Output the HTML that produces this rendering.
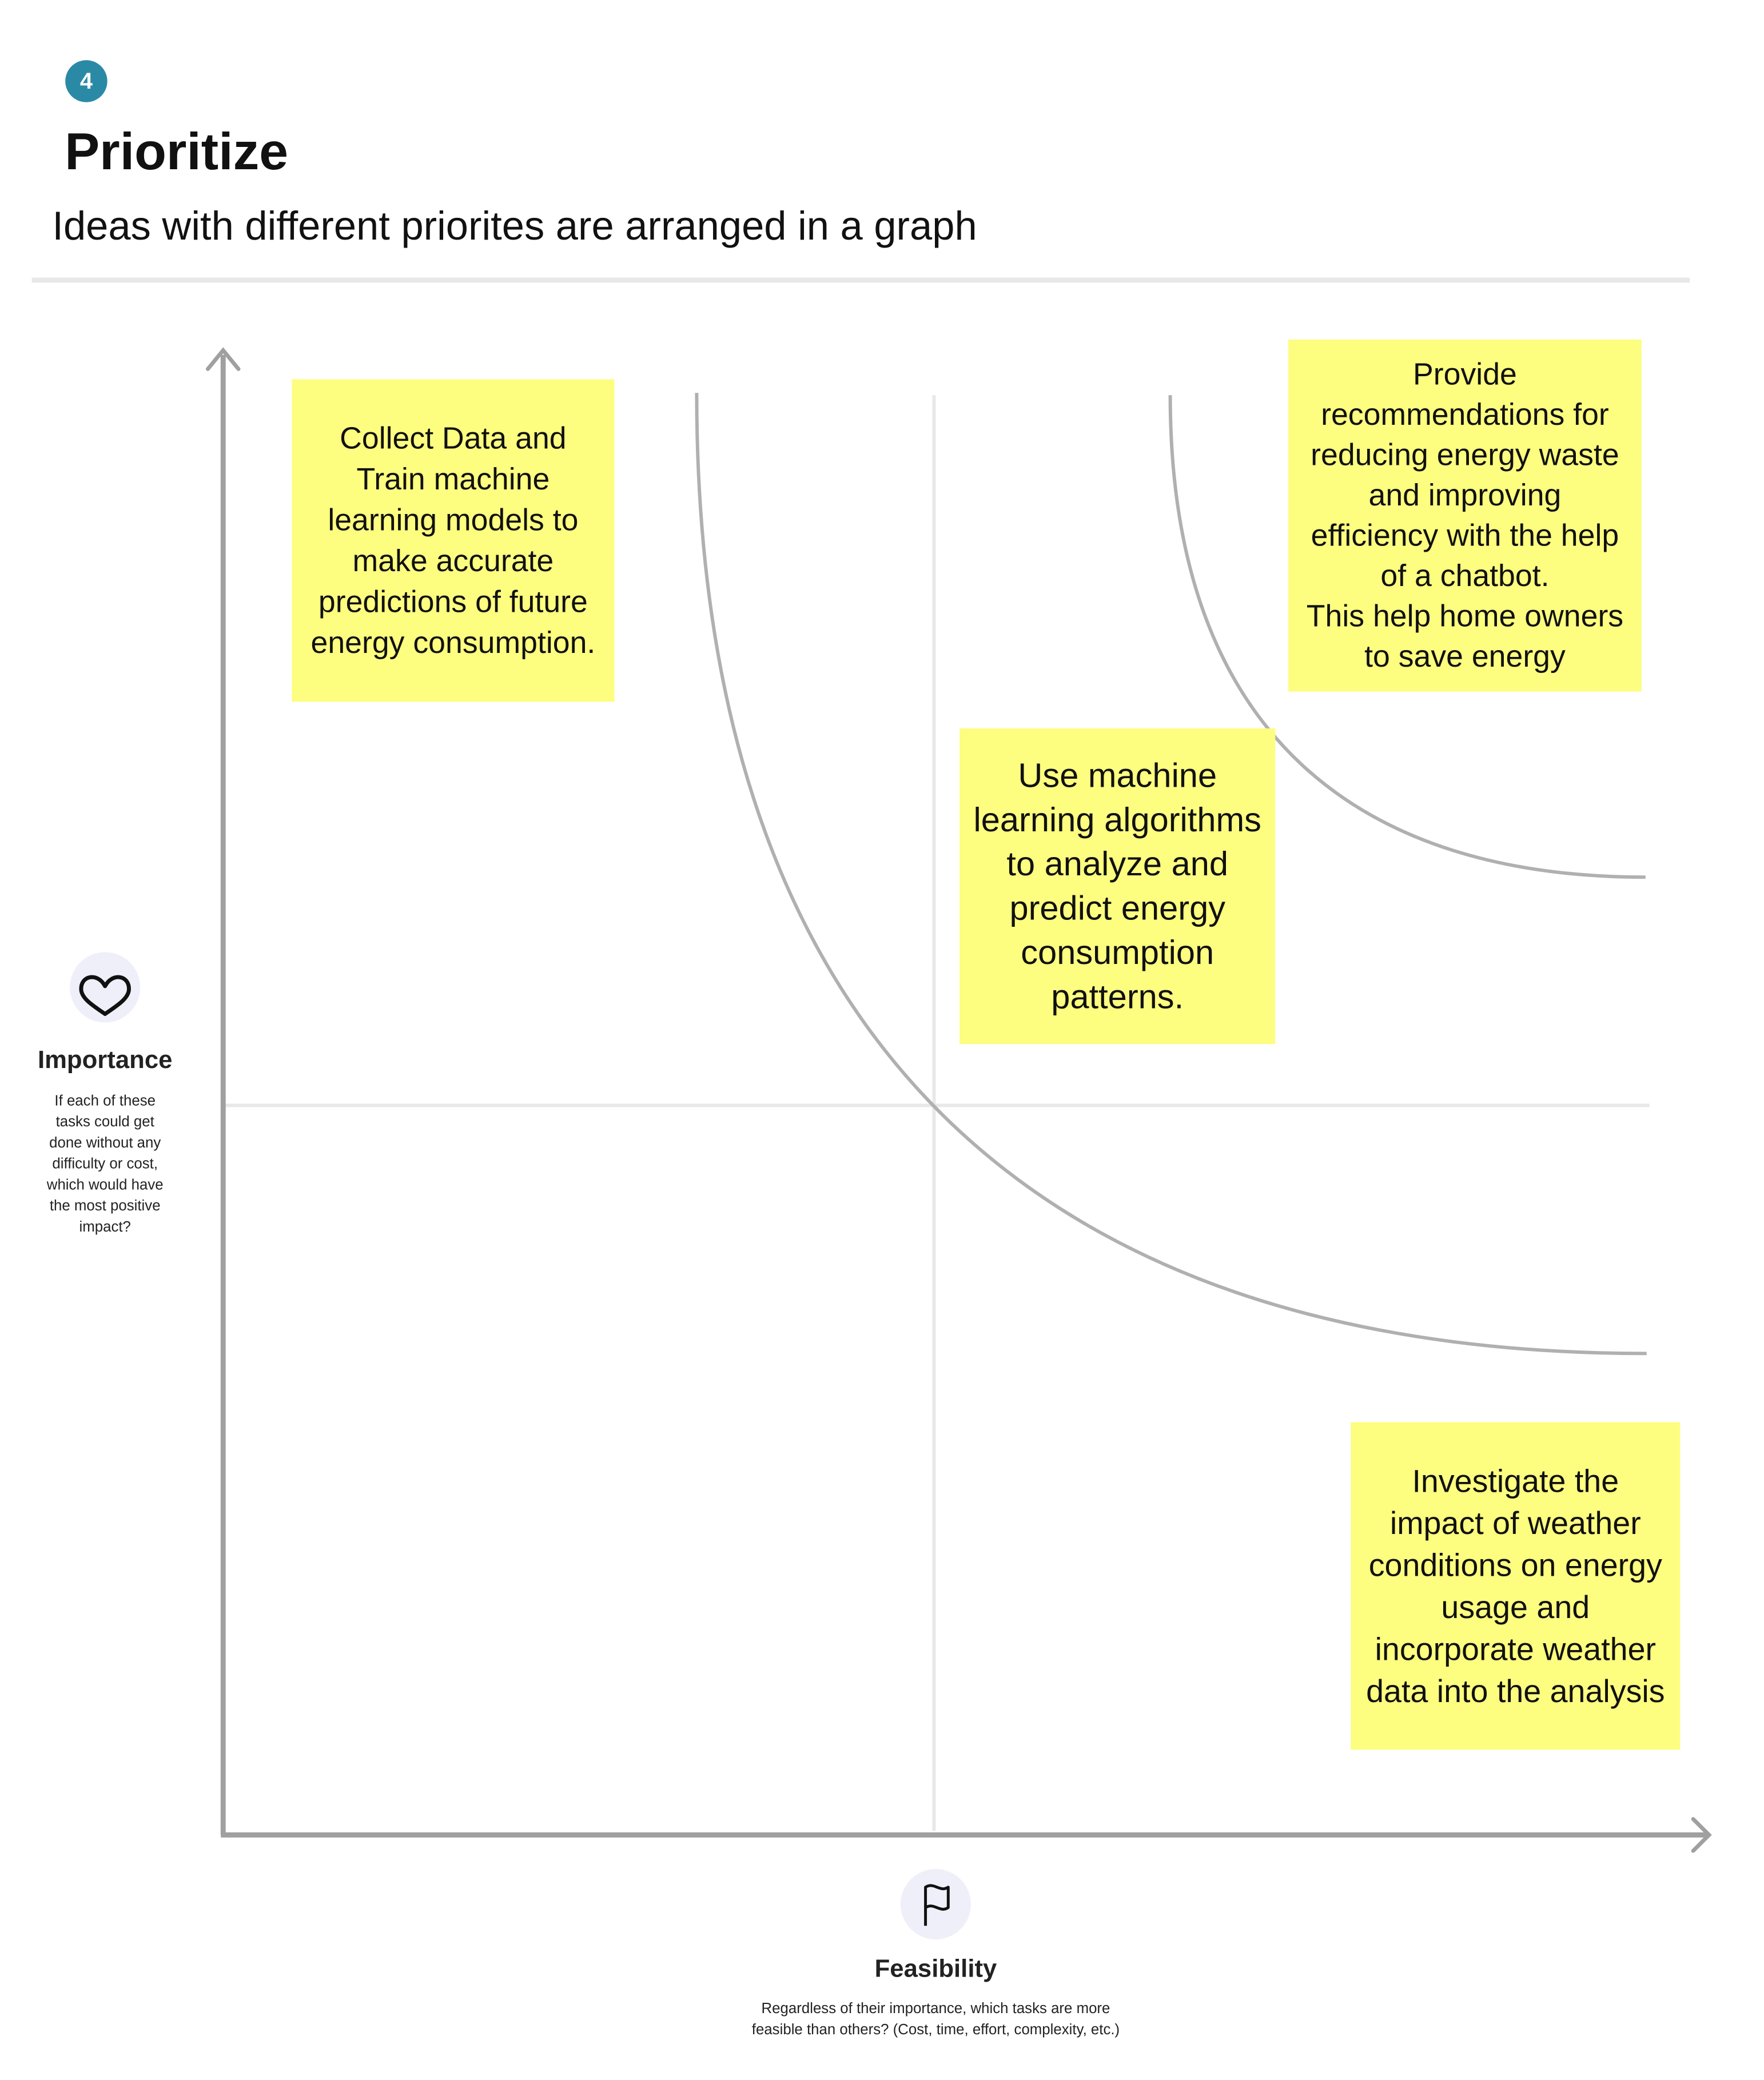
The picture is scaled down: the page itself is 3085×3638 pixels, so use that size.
<!DOCTYPE html>
<html><head><meta charset="utf-8"><style>
html,body{margin:0;padding:0;background:#fff;}
body{width:3085px;height:3638px;position:relative;overflow:hidden;font-family:"Liberation Sans",sans-serif;color:#111;}
#w{position:absolute;left:0;top:0;width:3085px;height:3638px;transform:scale(0.993);transform-origin:0 0;}
.a{position:absolute;}
.st{position:absolute;background:#fdfd80;display:flex;align-items:center;justify-content:center;text-align:center;white-space:nowrap;color:#111;}
.c{text-align:center;white-space:nowrap;}
</style></head><body><div id="w">
<div class="a" style="left:115px;top:106px;width:74px;height:74px;border-radius:50%;background:#2a8aa6;color:#fff;font-weight:bold;font-size:40px;line-height:74px;text-align:center;">4</div>
<div class="a" style="left:114px;top:212px;font-size:92px;font-weight:bold;line-height:110px;">Prioritize</div>
<div class="a" style="left:92px;top:354px;font-size:71px;line-height:90px;white-space:nowrap;">Ideas with different priorites are arranged in a graph</div>
<div class="a" style="left:56px;top:489px;width:2920px;height:9px;background:#e8e8e8;"></div>

<svg class="a" style="left:0;top:0" width="3085" height="3638">
<line x1="1645" y1="696" x2="1645" y2="3225" stroke="#e8e8e8" stroke-width="6"/>
<line x1="393" y1="1947" x2="2905" y2="1947" stroke="#e8e8e8" stroke-width="6"/>
<path d="M1227,692 C1227,1900 1900,2384 2900,2384" fill="none" stroke="#b0b0b0" stroke-width="6"/>
<path d="M2061,696 C2061,1300 2400,1545 2898,1545" fill="none" stroke="#b0b0b0" stroke-width="6"/>
<line x1="393" y1="625" x2="393" y2="3232" stroke="#a0a0a0" stroke-width="9"/>
<line x1="389" y1="3232" x2="3005" y2="3232" stroke="#a0a0a0" stroke-width="9"/>
<path d="M366,650 L393,617 L420,650" fill="none" stroke="#a0a0a0" stroke-width="7" stroke-linecap="round"/>
<path d="M2982,3204 L3010,3232 L2982,3260" fill="none" stroke="#a0a0a0" stroke-width="7" stroke-linecap="round"/>
<circle cx="185" cy="1739" r="62" fill="#efeffa"/>
<path d="M185,1737 C172,1712 141,1718 143,1744 C145,1760 165,1772 185,1786 C205,1772 225,1760 227,1744 C229,1718 198,1712 185,1737 Z" fill="none" stroke="#111" stroke-width="7" stroke-linejoin="round"/>
<circle cx="1648" cy="3354" r="62" fill="#efeffa"/>
<path d="M1630,3392 V3324 C1645,3314 1655,3334 1670,3324 V3360 C1655,3370 1645,3350 1630,3360" fill="none" stroke="#111" stroke-width="5" stroke-linejoin="round"/>
</svg>

<div class="a c" style="left:0;top:1840px;width:370px;font-size:44px;font-weight:bold;line-height:54px;color:#222;">Importance</div>
<div class="a c" style="left:0;top:1920px;width:370px;font-size:26px;line-height:37px;color:#222;">If each of these<br>tasks could get<br>done without any<br>difficulty or cost,<br>which would have<br>the most positive<br>impact?</div>
<div class="a c" style="left:1348px;top:3441px;width:600px;font-size:44px;font-weight:bold;line-height:54px;color:#222;">Feasibility</div>
<div class="a c" style="left:1248px;top:3519px;width:800px;font-size:26px;line-height:37px;color:#222;">Regardless of their importance, which tasks are more<br>feasible than others? (Cost, time, effort, complexity, etc.)</div>

<div class="st" style="left:514px;top:668px;width:568px;height:568px;font-size:54px;line-height:72px;">Collect Data and<br>Train machine<br>learning models to<br>make accurate<br>predictions of future<br>energy consumption.</div>
<div class="st" style="left:2269px;top:598px;width:622px;height:620px;font-size:54px;line-height:71px;">Provide<br>recommendations for<br>reducing energy waste<br>and improving<br>efficiency with the help<br>of a chatbot.<br>This help home owners<br>to save energy</div>
<div class="st" style="left:1690px;top:1283px;width:556px;height:556px;font-size:60px;line-height:78px;">Use machine<br>learning algorithms<br>to analyze and<br>predict energy<br>consumption<br>patterns.</div>
<div class="st" style="left:2379px;top:2505px;width:580px;height:577px;font-size:56px;line-height:74px;">Investigate the<br>impact of weather<br>conditions on energy<br>usage and<br>incorporate weather<br>data into the analysis</div>
</div></body></html>
